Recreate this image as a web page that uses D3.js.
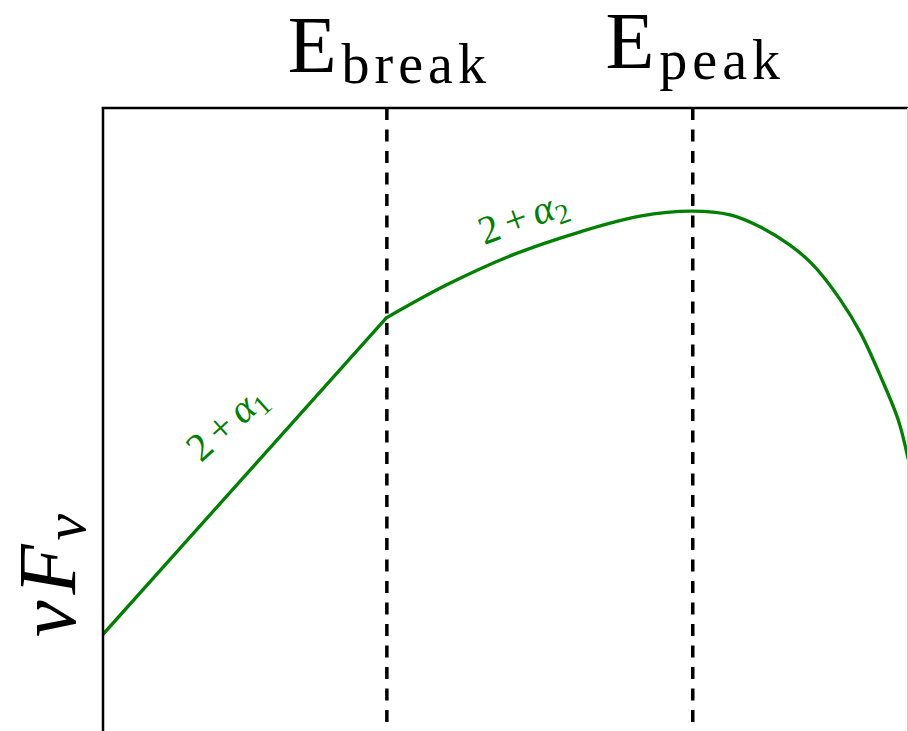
<!DOCTYPE html>
<html>
<head>
<meta charset="utf-8">
<script src="https://cdn.jsdelivr.net/npm/d3@7"></script>
<style>
  html, body { margin: 0; padding: 0; background: #fff; }
  svg { display: block; }
  text { font-family: "Liberation Serif", "DejaVu Serif", serif; }
</style>
</head>
<body>
<svg id="chart" width="908" height="731"></svg>
<script>
// Schematic Band-like spectrum in log-log space (arbitrary units, 0-100).
// Low-energy power law up to the break
const lowLogE   = [0, 35.2];
const lowLogNuF = [15.5, 66.2];
// Curved segment from the break through the peak and the cutoff
const highLogE   = [35.2, 42.7, 50.9, 59.3, 66.7, 73.2, 77.9, 81.6, 85.3, 88.2, 91.6, 94.1, 96.6, 98.8, 100];
const highLogNuF = [66.2, 71.5, 76.3, 80.0, 82.5, 83.3, 82.7, 80.8, 77.9, 74.7, 69.1, 63.8, 56.8, 49.8, 43.7];
// Characteristic energies marked by dashed lines
const markerSubs = ["break", "peak"];
const markerLogE = [35.2, 73.2];
// Slope annotations
const slopeSubs = ["1", "2"];

const svg = d3.select("#chart");
const W = 908, H = 731;
const m = { left: 103, top: 108, right: 908, bottom: H };

const x = d3.scaleLinear().domain([0, 100]).range([m.left, m.right]);
const y = d3.scaleLinear().domain([0, 100]).range([m.bottom, 107]);

const green = "#008000";

svg.append("defs").append("clipPath").attr("id", "plotclip")
  .append("rect").attr("x", m.left).attr("y", m.top)
  .attr("width", m.right - m.left).attr("height", m.bottom - m.top);

// Dashed markers
svg.selectAll("line.marker").data(markerLogE).enter().append("line")
  .attr("class", "marker")
  .attr("x1", d => x(d) + 0.5).attr("x2", d => x(d) + 0.5)
  .attr("y1", m.top).attr("y2", m.bottom)
  .attr("stroke", "#000").attr("stroke-width", 3.5)
  .attr("stroke-dasharray", "12,9.5");

// Spectrum
const plot = svg.append("g").attr("clip-path", "url(#plotclip)");
const lowPts = lowLogE.map((e, i) => [e, lowLogNuF[i]]);
const highPts = highLogE.map((e, i) => [e, highLogNuF[i]]);

plot.append("path")
  .attr("d", d3.line().x(d => x(d[0])).y(d => y(d[1]))(lowPts))
  .attr("fill", "none").attr("stroke", green).attr("stroke-width", 3.3)
  .attr("stroke-linecap", "round");
plot.append("path")
  .attr("d", d3.line().curve(d3.curveCatmullRom.alpha(0.5)).x(d => x(d[0])).y(d => y(d[1]))(highPts))
  .attr("fill", "none").attr("stroke", green).attr("stroke-width", 3.3)
  .attr("stroke-linecap", "round");

// Frame
svg.append("line").attr("x1", m.left).attr("x2", m.left).attr("y1", m.top - 1).attr("y2", m.bottom)
  .attr("stroke", "#000").attr("stroke-width", 2.5);
svg.append("line").attr("x1", m.left - 1.2).attr("x2", m.right).attr("y1", m.top).attr("y2", m.top)
  .attr("stroke", "#000").attr("stroke-width", 2.5);
svg.append("line").attr("x1", 907.5).attr("x2", 907.5).attr("y1", m.top).attr("y2", m.bottom)
  .attr("stroke", "#cfcfcf").attr("stroke-width", 1);

// Marker labels: E with a subscript, centred over each dashed line
const baseY = [72, 68];
markerSubs.forEach((s, i) => {
  const t = svg.append("text")
    .attr("x", x(markerLogE[i]) + 3)
    .attr("y", baseY[i])
    .attr("text-anchor", "middle")
    .attr("font-size", 80)
    .attr("fill", "#000");
  t.append("tspan").text("E");
  t.append("tspan").attr("dx", 5).attr("dy", 11)
    .attr("font-size", 56).attr("letter-spacing", 5).text(s);
});

// Y axis label
const yl = svg.append("text")
  .attr("transform", "translate(75,637) rotate(-90)")
  .attr("font-style", "italic")
  .attr("font-size", 82)
  .attr("fill", "#000");
yl.append("tspan").text("ν");
yl.append("tspan").attr("dx", 6).text("F");
yl.append("tspan").attr("dx", 4).attr("dy", 10).attr("font-size", 60).text("ν");

// Slope annotations along the curve
const slopePos = [[16.4, 47.8, -42], [52.7, 80.4, -20]];
slopeSubs.forEach((s, i) => {
  const [ex, ey, rot] = slopePos[i];
  const t = svg.append("text")
    .attr("transform", `translate(${x(ex)},${y(ey)}) rotate(${rot})`)
    .attr("text-anchor", "middle")
    .attr("font-size", 40)
    .attr("fill", green);
  t.append("tspan").text("2");
  t.append("tspan").attr("dx", 7).text("+");
  t.append("tspan").attr("dx", 7).attr("font-style", "italic").text("α");
  t.append("tspan").attr("dy", 7).attr("font-size", 28).text(s);
});
</script>
</body>
</html>
